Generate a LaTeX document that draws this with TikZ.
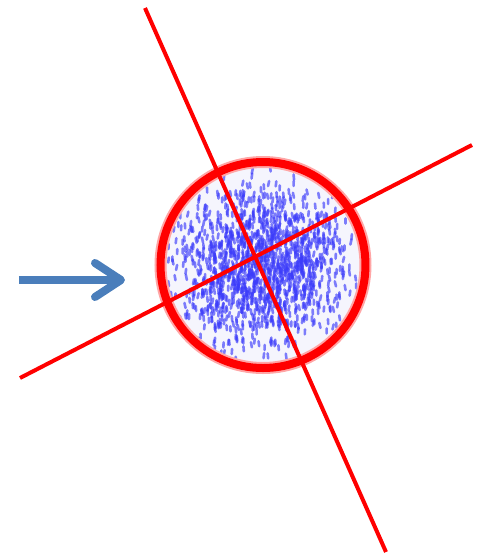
\documentclass[tikz,border=0pt]{standalone}
\usepackage{tikz}
\definecolor{ringred}{RGB}{255,0,0}
\definecolor{ptblue}{RGB}{60,60,250}
\definecolor{cellbg}{RGB}{245,245,253}
\definecolor{arrowblue}{RGB}{74,126,187}

\begin{document}
\begin{tikzpicture}[x=0.5pt,y=-0.5pt,
  axis/.style={draw=ringred,line width=2pt},
  ring/.style={draw=ringred,line width=4pt},
  spot/.style={draw=ptblue,line width=1.3pt,opacity=0.65,line cap=round},
  push/.style={draw=arrowblue,line width=4pt,line join=round}]
\useasboundingbox (0,0) rectangle (483,554);
\coordinate (c) at (263,265);
% cell body
\fill[cellbg] (c) ellipse [x radius=102,y radius=103];
\begin{scope}
  \clip (c) ellipse [x radius=97,y radius=98];
  \pgfmathsetseed{7}
  \foreach \i in {1,...,1400}{
    \pgfmathsetmacro\spotr{sqrt(-2*ln(0.0005+0.999*rnd))}
    \pgfmathsetmacro\spota{360*rnd}
    \pgfmathsetmacro\spott{1.2*rand}
    \draw[spot] (c) ++({42*\spotr*cos(\spota)},{40*\spotr*sin(\spota)-2.5}) -- ++(\spott,5);
  }
\end{scope}
% blurred rim
\draw[ringred!35,line width=6pt] (c) ellipse [x radius=102.5,y radius=103];
\draw[ring] (c) ellipse [x radius=102.5,y radius=103];
% axes
\coordinate (a1) at (145,8);
\coordinate (a2) at (386,552);
\coordinate (b1) at (20,378);
\coordinate (b2) at (472,145);
\draw[axis] (a1) -- (a2);
\draw[axis] (b1) -- (b2);
% incoming arrow
\coordinate (s) at (19,280);
\coordinate (t) at (121,280);
\draw[push] (s) -- ++(99,0);
\draw[push,line cap=round] (t) ++(-26,-17) -- (t) -- ++(-26,17);
\end{tikzpicture}
\end{document}
